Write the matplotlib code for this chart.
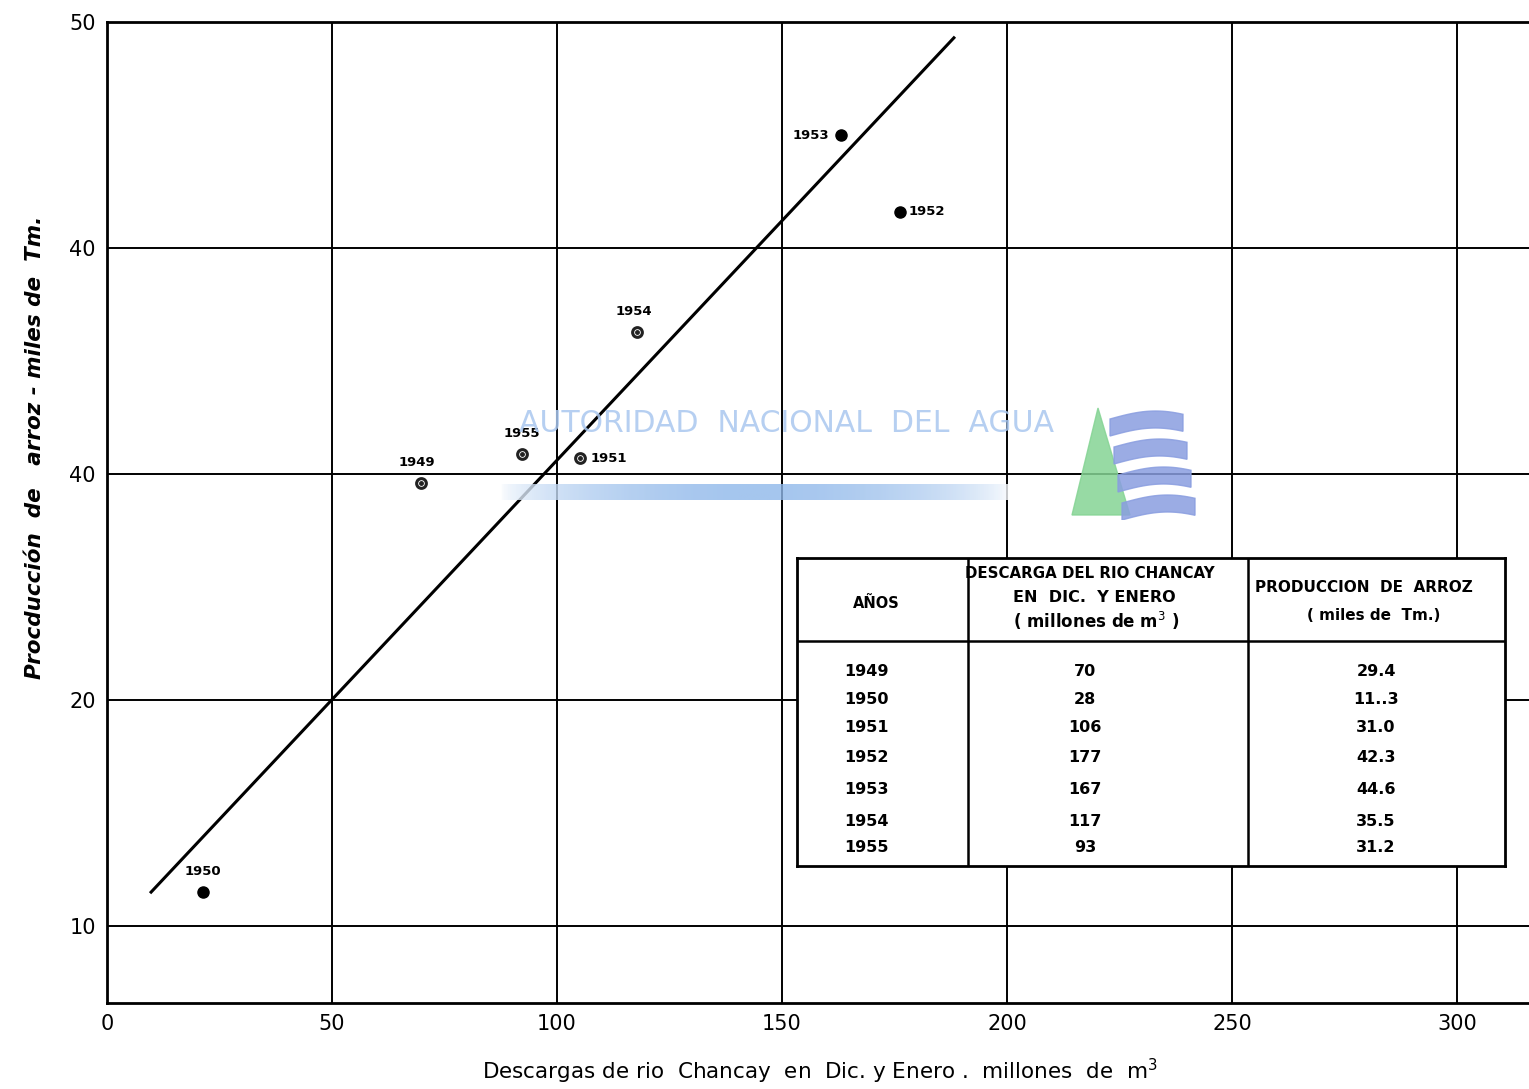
import matplotlib
matplotlib.use("Agg")
import matplotlib.pyplot as plt
from matplotlib.patches import Polygon
import numpy as np

# ---------------- data ----------------
years = ["1949", "1950", "1951", "1952", "1953", "1954", "1955"]
# plotted point positions (as drawn on the chart)
point_x = [69.8, 21.3, 105.1, 176.2, 163.0, 117.8, 92.2]
point_y = [29.6, 11.5, 30.7, 41.6, 45.0, 36.3, 30.9]
filled = [False, True, False, True, True, False, False]

# regression line end points
line_x = [9.8, 188.2]
line_y = [11.5, 49.3]

# table values
table_discharge = ["70", "28", "106", "177", "167", "117", "93"]
table_production = ["29.4", "11..3", "31.0", "42.3", "44.6", "35.5", "31.2"]

x_ticks = [0, 50, 100, 150, 200, 250, 300]
x_ticklabels = ["0", "50", "100", "150", "200", "250", "300"]
y_ticks = [10, 20, 30, 40, 50]
y_ticklabels = ["10", "20", "40", "40", "50"]

W, H = 1529, 1089
fig = plt.figure(figsize=(W / 100, H / 100), dpi=100)
fx = lambda px: px / W
fy = lambda py: 1 - py / H

ax = fig.add_axes([fx(107), fy(1003), 1 - fx(107), fy(22) - fy(1003)])
ax.set_xlim(0, (W - 107) / 4.5)
ax.set_ylim(10 - 77 / 22.6, 50)

ax.spines["right"].set_visible(False)
for s in ["left", "bottom", "top"]:
    ax.spines[s].set_linewidth(2.0)

ax.set_xticks(x_ticks)
ax.set_xticklabels(x_ticklabels, fontsize=15)
ax.set_yticks(y_ticks)
ax.set_yticklabels(y_ticklabels, fontsize=15)
ax.tick_params(length=0, pad=8)
ax.grid(True, color="black", linewidth=1.4)
ax.set_axisbelow(True)

fig.text(fx(820), fy(1071), "Descargas de rio  Chancay  en  Dic. y Enero .  millones  de  m$^3$",
         fontsize=15.5, ha="center", va="center")
fig.text(fx(35), fy(447), "Procducción  de   arroz - miles de  Tm.", fontsize=15.5,
         fontstyle="italic", fontweight="bold", rotation=90, ha="center", va="center")

# ---------------- watermark ----------------
fig.text(fx(787), fy(423), "AUTORIDAD  NACIONAL  DEL  AGUA", fontsize=21.5,
         color="#a9c7ef", ha="center", va="center", alpha=0.85, zorder=1)
grad = np.linspace(0, 1, 256)
grad = np.sin(grad * np.pi) ** 0.6
gax = fig.add_axes([fx(500), fy(500), fx(1010) - fx(500), fy(484) - fy(500)])
gax.imshow(grad[None, :], cmap=matplotlib.colors.LinearSegmentedColormap.from_list(
    "wm", ["#ffffff", "#8fb8ea"]), aspect="auto", alpha=0.8)
gax.axis("off")
gax.set_zorder(0.5)
# logo
logo = fig.add_axes([fx(1065), fy(520), fx(1200) - fx(1065), fy(405) - fy(520)])
logo.set_xlim(0, 135)
logo.set_ylim(115, 0)
logo.axis("off")
logo.add_patch(Polygon([[33, 3], [7, 110], [65, 110]], closed=True,
                       color="#85d494", alpha=0.85))
for i in range(4):
    y0 = 14 + i * 28
    xs = np.linspace(45 + i * 4, 118 + i * 4, 30)
    t = (xs - xs[0]) / (xs[-1] - xs[0])
    top = y0 - 8 * np.sin(t * np.pi * 0.8)
    bot = top + 17
    poly = np.vstack([np.column_stack([xs, top]), np.column_stack([xs[::-1], bot[::-1]])])
    logo.add_patch(Polygon(poly, closed=True, color="#8a9ee0", alpha=0.85))

# ---------------- regression line & points ----------------
ax.plot(line_x, line_y, color="black", linewidth=2.2, zorder=3)
for xv, yv, f in zip(point_x, point_y, filled):
    if f:
        ax.plot(xv, yv, "o", color="black", markersize=8, zorder=4)
    else:
        ax.plot(xv, yv, "o", mfc="white", mec="#222222", mew=2.2, markersize=7, zorder=4)
        ax.plot(xv, yv, "o", color="#222222", markersize=2.5, zorder=5)

label_pos = {
    "1953": (-8, 0, "right", "center"),
    "1952": (6, 0, "left", "center"),
    "1954": (-2, 10, "center", "bottom"),
    "1955": (0, 10, "center", "bottom"),
    "1951": (8, 0, "left", "center"),
    "1949": (-3, 10, "center", "bottom"),
    "1950": (0, 10, "center", "bottom"),
}
for xv, yv, yr in zip(point_x, point_y, years):
    dx, dy, ha, va = label_pos[yr]
    ax.annotate(yr, (xv, yv), xytext=(dx, dy), textcoords="offset points",
                ha=ha, va=va, fontsize=9.5, fontweight="bold", zorder=6)

# ---------------- table ----------------
tl, tr, tt, tb = 797, 1505, 558, 866
tax = fig.add_axes([fx(tl), fy(tb), fx(tr) - fx(tl), fy(tt) - fy(tb)])
tax.set_xlim(tl, tr)
tax.set_ylim(tb, tt)
tax.set_xticks([])
tax.set_yticks([])
for s in tax.spines.values():
    s.set_linewidth(2.0)
tax.set_facecolor("white")
tax.set_zorder(5)
for cx in [968, 1248]:
    tax.plot([cx, cx], [tt, tb], color="black", lw=1.8)
tax.plot([tl, tr], [641, 641], color="black", lw=1.8)

tax.text(876, 603, "AÑOS", ha="center", va="center", fontsize=10.5, fontweight="bold")
tax.text(1090, 574, "DESCARGA DEL RIO CHANCAY", ha="center", va="center",
         fontsize=10.8, fontweight="bold")
tax.text(1094, 597, "EN  DIC.  Y ENERO", ha="center", va="center", fontsize=11.5, fontweight="bold")
tax.text(1096, 621, "( millones de m$^3$ )", ha="center", va="center", fontsize=12, fontweight="bold")
tax.text(1364, 587, "PRODUCCION  DE  ARROZ", ha="center", va="center", fontsize=11, fontweight="bold")
tax.text(1374, 616, "( miles de  Tm.)", ha="center", va="center", fontsize=11, fontweight="bold")

row_y = [672, 699, 728, 758, 789, 822, 848]
for ry, yr, d, p in zip(row_y, years, table_discharge, table_production):
    tax.text(866, ry, yr, ha="center", va="center", fontsize=11.5, fontweight="bold")
    tax.text(1085, ry, d, ha="center", va="center", fontsize=11.5, fontweight="bold")
    tax.text(1376, ry, p, ha="center", va="center", fontsize=11.5, fontweight="bold")

fig.savefig("out.png", dpi=100, facecolor="white")
